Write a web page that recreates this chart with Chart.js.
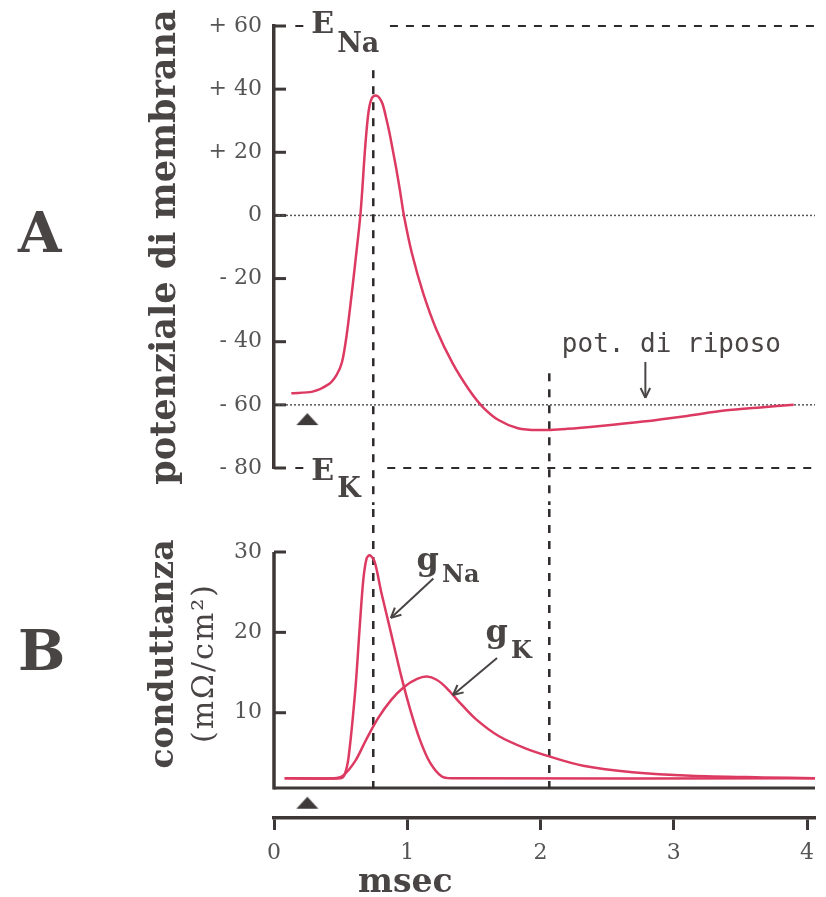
<!DOCTYPE html>
<html>
<head>
<meta charset="utf-8">
<title>Potenziale d'azione e conduttanze</title>
<script src="https://cdn.jsdelivr.net/npm/chart.js@4.4.1/dist/chart.umd.min.js"></script>
<style>
  body { margin: 0; background: #fff; }
  #wrap { position: relative; width: 826px; height: 897px; }
  #chartA { position: absolute; left: 0; top: 0; }
  #chartB { position: absolute; left: 0; top: 505px; }
</style>
</head>
<body>
<div id="wrap">
  <canvas id="chartA" width="826" height="505"></canvas>
  <canvas id="chartB" width="826" height="392"></canvas>
</div>
<script>
// --- dati ---
// A: potenziale di membrana (mV) nel tempo (msec)
const potTime  = [0.13, 0.29, 0.41, 0.47, 0.51, 0.545, 0.58, 0.615, 0.65, 0.685,
                  0.71, 0.735, 0.765, 0.79, 0.815, 0.84, 0.865, 0.89, 0.915, 0.945,
                  0.975, 1.035, 1.12, 1.22, 1.34, 1.465, 1.565, 1.685, 1.83, 1.98,
                  2.2, 2.45, 2.77, 3.1, 3.38, 3.65, 3.9];
const potValue = [-56.3, -55.8, -53.5, -50.5, -46.5, -38, -26, -13, 1, 22,
                  33, 37.2, 38, 37.3, 35.3, 31.2, 26.5, 21, 15.4, 8,
                  0, -12, -24.7, -36.3, -46.8, -55.3, -60.6, -64.8, -67.4, -68,
                  -67.6, -66.7, -65.3, -63.5, -61.8, -60.8, -60];

// B: conduttanze (mΩ/cm²)
const naTime = [0.08, 0.50, 0.53, 0.56, 0.61, 0.645, 0.67, 0.695, 0.718, 0.755,
                0.805, 0.877, 0.951, 1.024, 1.098, 1.171, 1.257, 1.33, 4.06];
const gNa    = [1.85, 1.85, 2.3, 4.5, 12.8, 21.1, 26.5, 29.2, 29.6, 28.8,
                25.0, 20.0, 14.8, 10.3, 6.5, 3.8, 2.1, 1.85, 1.85];
const kTime  = [0.08, 0.45, 0.52, 0.61, 0.69, 0.78, 0.88, 0.976, 1.074, 1.147,
                1.22, 1.294, 1.392, 1.515, 1.686, 1.882, 2.078, 2.32, 2.69, 3.13,
                3.67, 4.06];
const gK     = [1.85, 1.85, 2.2, 4.0, 6.6, 9.3, 11.6, 13.2, 14.2, 14.5,
                14.1, 13.1, 11.3, 9.2, 7.1, 5.6, 4.5, 3.4, 2.6, 2.15,
                1.95, 1.85];

// assi
const potTicks  = [60, 40, 20, 0, -20, -40, -60, -80];
const condTicks = [10, 20, 30];
const timeTicks = [0, 1, 2, 3, 4];

// riferimenti
const eNa = 60, eK = -80, restPot = -60;
const stimTime = 0.25;        // triangolo dello stimolo
const stimMarkA = -64.5, stimMarkB = -1.2;
const markerTimes = [0.745, 2.066];
const panelFloor = 0.63;      // linea di base del pannello B

const red = '#dd3a62';
const axisColor = '#3d3737';
const textColor = '#4a4545';

Chart.defaults.font.family = "'DejaVu Serif', serif";
Chart.defaults.color = textColor;
Chart.defaults.animation = false;

function seg(ctx, x1, y1, x2, y2) {
    ctx.beginPath();
    ctx.moveTo(x1, y1);
    ctx.lineTo(x2, y2);
    ctx.stroke();
}

function arrow(ctx, x1, y1, x2, y2) {
    seg(ctx, x1, y1, x2, y2);
    const a = Math.atan2(y2 - y1, x2 - x1);
    const len = 11;
    [a + Math.PI - 0.45, a + Math.PI + 0.45].forEach(b => {
        seg(ctx, x2, y2, x2 + Math.cos(b) * len, y2 + Math.sin(b) * len);
    });
}

function subLabel(ctx, main, sub, x, y, mainSize, subSize, dy) {
    ctx.font = `bold ${mainSize}px 'DejaVu Serif'`;
    ctx.fillText(main, x, y);
    const w = ctx.measureText(main).width;
    ctx.font = `bold ${subSize}px 'DejaVu Serif'`;
    ctx.fillText(sub, x + w + 3, y + dy);
}

function vText(ctx, text, cx, cy, font, spacing) {
    ctx.save();
    ctx.translate(cx, cy);
    ctx.rotate(-Math.PI / 2);
    ctx.font = font;
    ctx.letterSpacing = spacing || '0px';
    ctx.textAlign = 'center';
    ctx.textBaseline = 'middle';
    ctx.fillText(text, 0, 0);
    ctx.restore();
}

function makeTriangle(w, h) {
    const c = document.createElement('canvas');
    c.width = w; c.height = h;
    const g = c.getContext('2d');
    g.fillStyle = '#3f3a3a';
    g.beginPath();
    g.moveTo(w / 2, 1);
    g.lineTo(w - 1, h - 1);
    g.lineTo(1, h - 1);
    g.closePath();
    g.fill();
    return c;
}
const tri = makeTriangle(24, 14);

const tickLabel = v => v > 0 ? '+ ' + v : v < 0 ? '- ' + (-v) : '0';

const curve = (xs, ys) => ({
    data: xs.map((t, i) => ({ x: t, y: ys[i] })),
    borderColor: red,
    borderWidth: 2.5,
    pointRadius: 0,
    tension: 0.3,
    fill: false
});

// --- pannello A ---
const panelA = {
    id: 'panelA',
    beforeDatasetsDraw(chart) {
        const { ctx, chartArea: area, scales: { x, y } } = chart;
        ctx.save();
        // tacche interne
        ctx.strokeStyle = axisColor;
        ctx.lineWidth = 3;
        potTicks.forEach(v => seg(ctx, area.left, y.getPixelForValue(v), area.left + 12, y.getPixelForValue(v)));
        // punteggiate a 0 e a riposo
        ctx.strokeStyle = '#555';
        ctx.lineWidth = 1.5;
        ctx.setLineDash([2, 2]);
        [0, restPot].forEach(v => seg(ctx, area.left + 4, y.getPixelForValue(v), area.right, y.getPixelForValue(v)));
        // tratteggiate E_Na, E_K
        ctx.strokeStyle = '#2e2a2a';
        ctx.lineWidth = 2;
        ctx.setLineDash([8, 8]);
        const yNa = y.getPixelForValue(eNa), yK = y.getPixelForValue(eK);
        seg(ctx, x.getPixelForValue(0.16), yNa, x.getPixelForValue(0.23), yNa);
        seg(ctx, x.getPixelForValue(0.87), yNa, area.right, yNa);
        seg(ctx, x.getPixelForValue(0.16), yK, x.getPixelForValue(0.23), yK);
        seg(ctx, x.getPixelForValue(0.85), yK, area.right, yK);
        // verticali
        ctx.lineWidth = 2.5;
        seg(ctx, x.getPixelForValue(markerTimes[0]), y.getPixelForValue(46), x.getPixelForValue(markerTimes[0]), chart.height);
        seg(ctx, x.getPixelForValue(markerTimes[1]), y.getPixelForValue(-50), x.getPixelForValue(markerTimes[1]), chart.height);
        ctx.restore();
    },
    afterDraw(chart) {
        const { ctx, scales: { x, y } } = chart;
        ctx.save();
        ctx.fillStyle = textColor;
        ctx.strokeStyle = textColor;
        ctx.textBaseline = 'alphabetic';
        ctx.textAlign = 'left';
        subLabel(ctx, 'E', 'Na', x.getPixelForValue(0.28), y.getPixelForValue(eNa) + 7, 30, 27, 19);
        subLabel(ctx, 'E', 'K', x.getPixelForValue(0.28), y.getPixelForValue(eK) + 12, 30, 27, 17);
        ctx.font = "26px 'DejaVu Sans Mono'";
        ctx.fillText('pot. di riposo', x.getPixelForValue(2.16), y.getPixelForValue(-43.3));
        ctx.lineWidth = 2;
        arrow(ctx, x.getPixelForValue(2.787), y.getPixelForValue(-46.4), x.getPixelForValue(2.787), y.getPixelForValue(-57.8));
        ctx.font = "bold 56px 'DejaVu Serif'";
        ctx.fillText('A', 18, 252);
        ctx.restore();
    }
};

new Chart(document.getElementById('chartA'), {
    type: 'line',
    data: {
        datasets: [curve(potTime, potValue), {
            data: [{ x: stimTime, y: stimMarkA }],
            showLine: false,
            pointStyle: tri,
            pointRadius: 10
        }]
    },
    options: {
        responsive: false,
        layout: { padding: { top: 26, bottom: 37, left: 0, right: 0 } },
        plugins: { legend: { display: false }, tooltip: { enabled: false } },
        scales: {
            x: { type: 'linear', min: 0, max: 4.06, display: false },
            y: {
                min: eK,
                max: eNa,
                afterBuildTicks: s => { s.ticks = potTicks.map(v => ({ value: v })); },
                afterFit: s => { s.width = 274; },
                grid: { display: false, drawTicks: false },
                border: { display: true, color: axisColor, width: 3.5 },
                ticks: { padding: 12, font: { size: 22 }, color: '#555', callback: tickLabel },
                title: {
                    display: true,
                    text: 'potenziale di membrana',
                    color: textColor,
                    font: { size: 35, weight: 'bold', lineHeight: 1 },
                    padding: { top: 148, bottom: 0 }
                }
            }
        }
    },
    plugins: [panelA]
});

// --- pannello B ---
const panelB = {
    id: 'panelB',
    beforeDatasetsDraw(chart) {
        const { ctx, chartArea: area, scales: { x, y } } = chart;
        const yFloor = y.getPixelForValue(panelFloor);
        ctx.save();
        ctx.strokeStyle = axisColor;
        ctx.lineWidth = 3.5;
        seg(ctx, area.left, y.getPixelForValue(30), area.left, yFloor + 1.5);
        ctx.lineWidth = 3;
        seg(ctx, area.left, yFloor, area.right, yFloor);
        condTicks.forEach(v => seg(ctx, area.left, y.getPixelForValue(v), area.left + 12, y.getPixelForValue(v)));
        ctx.strokeStyle = '#2e2a2a';
        ctx.lineWidth = 2.5;
        ctx.setLineDash([8, 8]);
        markerTimes.forEach(t => seg(ctx, x.getPixelForValue(t), 4, x.getPixelForValue(t), yFloor));
        ctx.restore();
    },
    afterDraw(chart) {
        const { ctx, scales: { x, y } } = chart;
        ctx.save();
        ctx.fillStyle = textColor;
        ctx.strokeStyle = textColor;
        ctx.textAlign = 'left';
        ctx.textBaseline = 'alphabetic';
        subLabel(ctx, 'g', 'Na', x.getPixelForValue(1.07), y.getPixelForValue(27.8), 32, 24, 12);
        subLabel(ctx, 'g', 'K', x.getPixelForValue(1.588), y.getPixelForValue(18.8), 32, 24, 16);
        ctx.lineWidth = 2;
        arrow(ctx, x.getPixelForValue(1.196), y.getPixelForValue(26.7), x.getPixelForValue(0.877), y.getPixelForValue(21.8));
        arrow(ctx, x.getPixelForValue(1.674), y.getPixelForValue(16.8), x.getPixelForValue(1.343), y.getPixelForValue(12.2));
        // titolo asse y
        vText(ctx, 'conduttanza', 164, 149, "bold 33px 'DejaVu Serif'");
        vText(ctx, '(mΩ/cm²)', 205, 158, "30px 'DejaVu Serif'", '2px');
        // titolo asse x
        ctx.textAlign = 'center';
        ctx.font = "bold 33px 'DejaVu Serif'";
        ctx.fillText('msec', x.getPixelForValue(0.985), chart.height - 5);
        ctx.textAlign = 'left';
        ctx.font = "bold 56px 'DejaVu Serif'";
        ctx.fillText('B', 18, 165);
        ctx.restore();
    }
};

new Chart(document.getElementById('chartB'), {
    type: 'line',
    data: {
        datasets: [curve(naTime, gNa), curve(kTime, gK), {
            data: [{ x: stimTime, y: stimMarkB }],
            showLine: false,
            pointStyle: tri,
            pointRadius: 10
        }]
    },
    options: {
        responsive: false,
        layout: { padding: { top: 47, bottom: 0, left: 0, right: 0 } },
        plugins: { legend: { display: false }, tooltip: { enabled: false } },
        scales: {
            x: {
                type: 'linear',
                min: 0,
                max: 4.06,
                afterBuildTicks: s => { s.ticks = timeTicks.map(v => ({ value: v })); },
                afterFit: s => { s.height = 79; },
                grid: { display: true, drawOnChartArea: false, drawTicks: true, tickLength: 12, tickWidth: 3, tickColor: axisColor },
                border: { display: true, color: axisColor, width: 3.5 },
                ticks: { padding: 10, font: { size: 22 }, color: '#555', maxRotation: 0, autoSkip: false }
            },
            y: {
                min: -3.1,
                max: 30,
                afterBuildTicks: s => { s.ticks = condTicks.map(v => ({ value: v })); },
                afterFit: s => { s.width = 274; },
                grid: { display: false, drawTicks: false },
                border: { display: false },
                ticks: { padding: 12, font: { size: 22 }, color: '#555' }
            }
        }
    },
    plugins: [panelB]
});
</script>
</body>
</html>
